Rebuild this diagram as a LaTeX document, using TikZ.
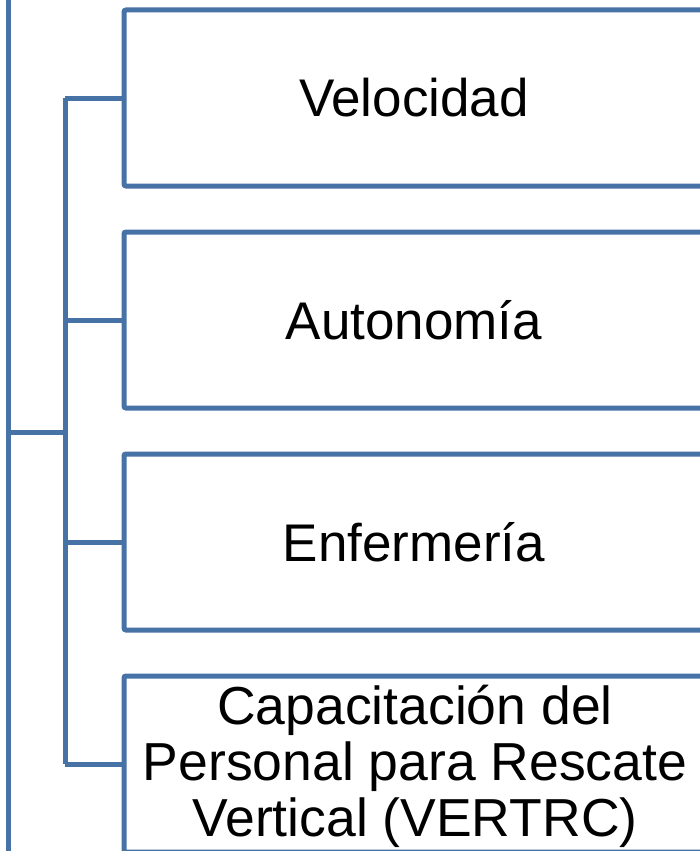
\documentclass[tikz,border=0pt]{standalone}
\usepackage{fontspec}
\setmainfont{Liberation Sans}
\definecolor{lineblue}{RGB}{70,114,166}
\begin{document}
\begin{tikzpicture}[x=1pt,y=-1pt,
  box/.style={draw=lineblue, line width=5pt, rounded corners=2pt, fill=white,
    minimum width=580pt, minimum height=176pt, inner sep=0pt, align=center,
    font=\fontsize{53pt}{58pt}\selectfont},
  label text/.style={inner sep=0pt, align=center, font=\fontsize{53.5pt}{56pt}\selectfont},
  link/.style={draw=lineblue, line width=5pt, line join=round}]
\useasboundingbox (0,0) rectangle (700,851);
\coordinate (top) at (8,-5);
\coordinate (bot) at (8,856);
\coordinate (j0) at (8,432);
\coordinate (j1) at (65,432);
\node[box] (b1) at (414,98) {Velocidad};
\node[box] (b2) at (414,320) {Autonomía};
\node[box] (b3) at (414,542) {Enfermería};
\node[box] (b4) at (414,764) {};
\node[label text] (t4) at (415,766) {Capacitación del\\Personal para Rescate\\Vertical (VERTRC)};
\coordinate (vt) at (65,98);
\coordinate (vb) at (65,764);
\draw[link] (top) -- (bot);
\draw[link] (j0) -- (j1);
\draw[link] (vt) -- (vb);
\draw[link] (vt) -- (b1.west);
\draw[link] (b2.west -| vt) -- (b2.west);
\draw[link] (b3.west -| vt) -- (b3.west);
\draw[link] (vb) -- (b4.west);
\end{tikzpicture}
\end{document}
